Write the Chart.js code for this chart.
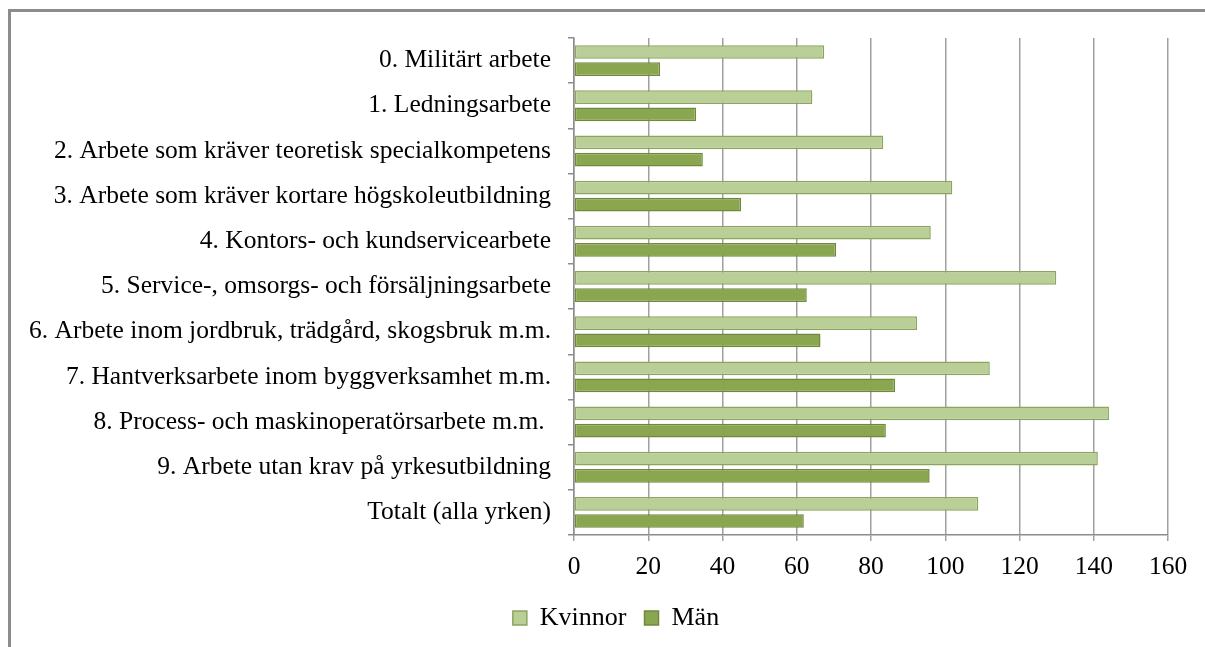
<!DOCTYPE html>
<html>
<head>
<meta charset="utf-8">
<script src="https://cdn.jsdelivr.net/npm/chart.js@4/dist/chart.umd.min.js"></script>
<style>
  body { margin: 0; background: #fff; }
  #frame {
    position: absolute; left: 8px; top: 9px; width: 1200px; height: 640px;
    border-top: 3px solid #8c8c8c; border-left: 3px solid #8c8c8c;
  }
  #chart { position: absolute; left: 0; top: 0; }
</style>
</head>
<body>
<div id="frame"></div>
<canvas id="chart" width="1205" height="647"></canvas>
<script>
const categories = [
  "0. Militärt arbete",
  "1. Ledningsarbete",
  "2. Arbete som kräver teoretisk specialkompetens",
  "3. Arbete som kräver kortare högskoleutbildning",
  "4. Kontors- och kundservicearbete",
  "5. Service-, omsorgs- och försäljningsarbete",
  "6. Arbete inom jordbruk, trädgård, skogsbruk m.m.",
  "7. Hantverksarbete inom byggverksamhet m.m.",
  "8. Process- och maskinoperatörsarbete m.m. ",
  "9. Arbete utan krav på yrkesutbildning",
  "Totalt (alla yrken)"
];
const kvinnor = [67.4, 64.2, 83.3, 101.9, 96.1, 129.9, 92.4, 112.0, 144.1, 141.1, 108.9];
const man = [23.2, 32.9, 34.7, 45.0, 70.6, 62.7, 66.4, 86.5, 84.0, 95.8, 61.9];
const seriesNames = ["Kvinnor", "Män"];

const serif = "'Liberation Serif', 'Times New Roman', serif";

// legend sits a bit right of the canvas centre in the original
const shiftLegend = {
  id: "shiftLegend",
  afterLayout(chart) {
    chart.legend.left += 32;
    chart.legend.right += 32;
  }
};

new Chart(document.getElementById("chart"), {
  type: "bar",
  data: {
    labels: categories,
    datasets: [
      {
        label: seriesNames[0],
        data: kvinnor,
        backgroundColor: "#bacf97",
        borderColor: "#8ba65c",
        borderWidth: 1.5,
        borderSkipped: false,
        categoryPercentage: 0.76,
        barPercentage: 0.8
      },
      {
        label: seriesNames[1],
        data: man,
        backgroundColor: "#8aa64f",
        borderColor: "#6f8a3c",
        borderWidth: 1.5,
        borderSkipped: false,
        categoryPercentage: 0.76,
        barPercentage: 0.8
      }
    ]
  },
  options: {
    indexAxis: "y",
    responsive: false,
    animation: false,
    layout: { padding: { top: 38, right: 37, bottom: 6, left: 0 } },
    plugins: {
      tooltip: { enabled: false },
      legend: {
        position: "bottom",
        labels: {
          font: { family: serif, size: 26 },
          color: "#000",
          boxWidth: 14,
          boxHeight: 14,
          padding: 18
        }
      }
    },
    scales: {
      x: {
        min: 0,
        max: 160,
        ticks: { stepSize: 20, color: "#000", font: { family: serif, size: 25.5 }, padding: 11 },
        grid: { color: "#a0a0a0", lineWidth: 1.5, tickLength: 6 },
        border: { color: "#8c8c8c", width: 1.5 },
        afterFit: s => { s.height = 52; }
      },
      y: {
        ticks: { color: "#000", font: { family: serif, size: 25.5 }, padding: 17, autoSkip: false },
        grid: { drawOnChartArea: false, color: "#8c8c8c", lineWidth: 1.5, tickLength: 6 },
        border: { color: "#8c8c8c", width: 1.5 },
        afterFit: s => { s.width = 574; }
      }
    }
  },
  plugins: [shiftLegend]
});
</script>
</body>
</html>
